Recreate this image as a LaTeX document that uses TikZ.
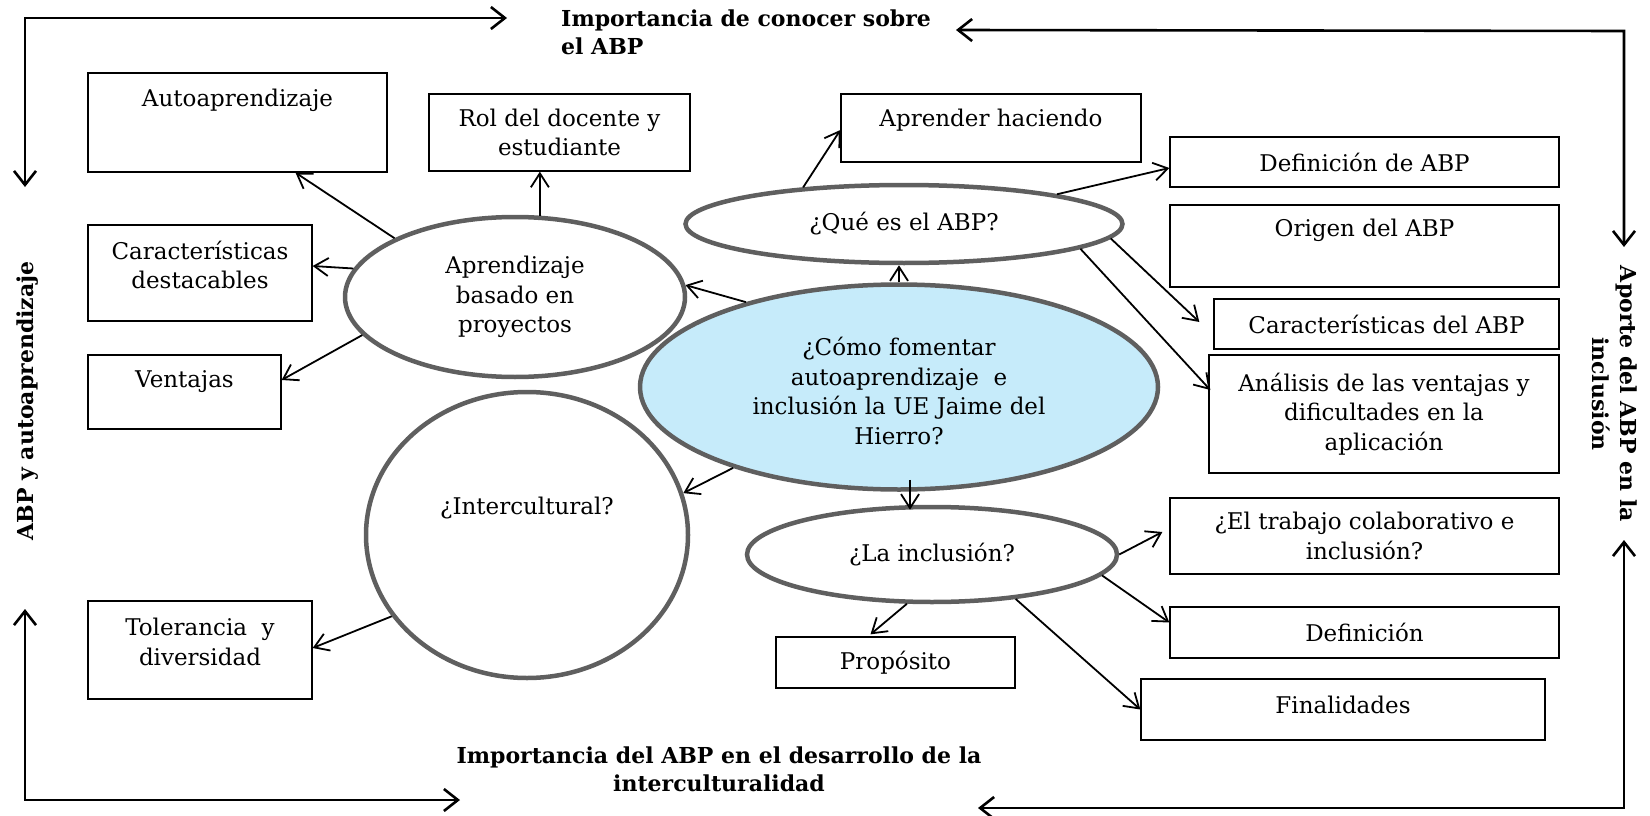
\documentclass[tikz,border=0pt]{standalone}
\usepackage{fontspec}
\setmainfont{DejaVu Serif}
\usetikzlibrary{arrows.meta,shapes.geometric}
\definecolor{mainblue}{RGB}{198,235,250}
\definecolor{outl}{RGB}{95,95,95}
\tikzset{
  box/.style={draw=black, line width=1.3pt, rectangle, inner sep=0pt, align=center,
    font=\fontsize{23}{29.5}\selectfont},
  txt/.style={inner sep=0pt, align=center, font=\fontsize{23}{29.5}\selectfont},
  ell/.style={draw=outl, line width=4.5pt, ellipse, inner sep=0pt, align=center,
    font=\fontsize{23}{29.5}\selectfont},
  lab/.style={inner sep=0pt, font=\bfseries\fontsize{22}{28}\selectfont},
  arr/.style={line width=1.8pt, -{Straight Barb[length=14pt,width=18pt]}},
  bigarr/.style={line width=2.6pt, {Straight Barb[length=14pt,width=22pt]}-{Straight Barb[length=14pt,width=22pt]}}
}
\begin{document}
\begin{tikzpicture}[x=1pt,y=-1pt]
\useasboundingbox (0,0) rectangle (1650,816);
% boxes
\node[box, minimum width=299pt, minimum height=99pt] (auto) at (237.5,122.5) {};
\node[txt] (tauto) at (237.5,100) {Autoaprendizaje};
\node[box, minimum width=261pt, minimum height=77pt] (rol) at (559.5,132.5) {Rol del docente y\\estudiante};
\node[box, minimum width=224pt, minimum height=96pt] (car) at (200,273) {};
\node[txt] (tcar) at (200,265) {Características\\destacables};
\node[box, minimum width=193pt, minimum height=74pt] (ven) at (184.5,392) {};
\node[txt] (tven) at (184.5,382) {Ventajas};
\node[box, minimum width=224pt, minimum height=98pt] (tol) at (200,650) {};
\node[txt] (ttol) at (200,642) {Tolerancia~ y\\diversidad};
\node[box, minimum width=300pt, minimum height=68pt] (apr) at (991,128) {};
\node[txt] (tapr) at (991,120) {Aprender haciendo};
\node[box, minimum width=389pt, minimum height=50pt] (defabp) at (1364.5,162) {Definición de ABP};
\node[box, minimum width=389pt, minimum height=82pt] (ori) at (1364.5,246) {};
\node[txt] (tori) at (1364.5,230) {Origen del ABP};
\node[box, minimum width=345pt, minimum height=50pt] (carabp) at (1386.5,324) {Características del ABP};
\node[box, minimum width=350pt, minimum height=118pt] (ana) at (1384,414) {Análisis de las ventajas y\\dificultades en la\\aplicación};
\node[box, minimum width=389pt, minimum height=76pt] (tra) at (1364.5,536) {¿El trabajo colaborativo e\\inclusión?};
\node[box, minimum width=389pt, minimum height=51pt] (def) at (1364.5,632.5) {Definición};
\node[box, minimum width=404pt, minimum height=61pt] (fin) at (1343,709.5) {};
\node[txt] (tfin) at (1343,705) {Finalidades};
\node[box, minimum width=239pt, minimum height=51pt] (pro) at (895.5,662.5) {Propósito};
% ellipses
\node[ell, minimum width=340pt, minimum height=160pt] (abp) at (515,297) {Aprendizaje\\basado en\\proyectos};
\node[ell, minimum width=322pt, minimum height=286pt] (inter) at (527,535) {};
\node[txt] (tinter) at (527,508) {¿Intercultural?};
\node[ell, minimum width=437pt, minimum height=78pt] (que) at (904,224) {¿Qué es el ABP?};
\node[ell, fill=mainblue, minimum width=518pt, minimum height=205pt] (main) at (899,387) {};
\node[txt] (tmain) at (899,391) {¿Cómo fomentar\\autoaprendizaje~ e\\inclusión la UE Jaime del\\Hierro?};
\node[ell, minimum width=370pt, minimum height=95pt] (inc) at (932,554.5) {¿La inclusión?};
% labels
\node[lab, align=left, anchor=west] (ltop) at (561,32.5) {Importancia de conocer sobre\\el ABP};
\node[lab, align=center] (lbot) at (719,769) {Importancia del ABP en el desarrollo de la\\interculturalidad};
\node[lab, rotate=90] (lleft) at (28,401) {ABP y autoaprendizaje};
\node[lab, rotate=-90, align=center] (lright) at (1615,394) {Aporte del ABP en la\\inclusión};
% connectors
\draw[arr] (abp.154) -- ([xshift=58pt]auto.south);
\draw[arr] (abp.73) -- (abp.73 |- rol.south);
\draw[arr] (abp.170) -- ([yshift=7pt]car.east);
\draw[arr] (abp.194) -- ([yshift=12pt]ven.east);
\draw[arr] (main.151) -- (abp.4);
\draw[arr] (main.north) -- (main.north |- que.south);
\draw[arr] (main.206) -- (inter.15);
\draw[arr] ([xshift=11pt,yshift=12pt]main.south) -- ([xshift=-22pt,yshift=-5pt]inc.north);
\draw[arr] (que.160) -- ([yshift=-2pt]apr.west);
\draw[arr] (que.11) -- ([yshift=-6pt]defabp.west);
\draw[arr] (que.-4) -- ([xshift=-14pt,yshift=2pt]carabp.west);
\draw[arr] (que.-8.5) -- ([xshift=2pt,yshift=24pt]ana.west);
\draw[arr] (inc.east) -- ([xshift=-7pt,yshift=4pt]tra.west);
\draw[arr] (inc.-7) -- ([yshift=10pt]def.west);
\draw[arr] (inc.-28) -- (fin.west);
\draw[arr] (inc.-117) -- ([xshift=-25pt,yshift=2pt]pro.north);
\draw[arr] (inter.211) -- ([yshift=2pt]tol.east);
% border arrows
\coordinate (tla) at (25,187); \coordinate (tlc) at (25,18); \coordinate (tlb) at (507,18);
\coordinate (tra1) at (956,30); \coordinate (trc) at (1624,31); \coordinate (trb) at (1624,247);
\coordinate (bra) at (978,808); \coordinate (brc) at (1624,808); \coordinate (brb) at (1624,540);
\coordinate (bla) at (25,609); \coordinate (blc) at (25,800); \coordinate (blb) at (460,800);
\draw[bigarr] (tla) -- (tlc) -- (tlb);
\draw[bigarr] (tra1) -- (trc) -- (trb);
\draw[bigarr] (bra) -- (brc) -- (brb);
\draw[bigarr] (bla) -- (blc) -- (blb);
\end{tikzpicture}
\end{document}
